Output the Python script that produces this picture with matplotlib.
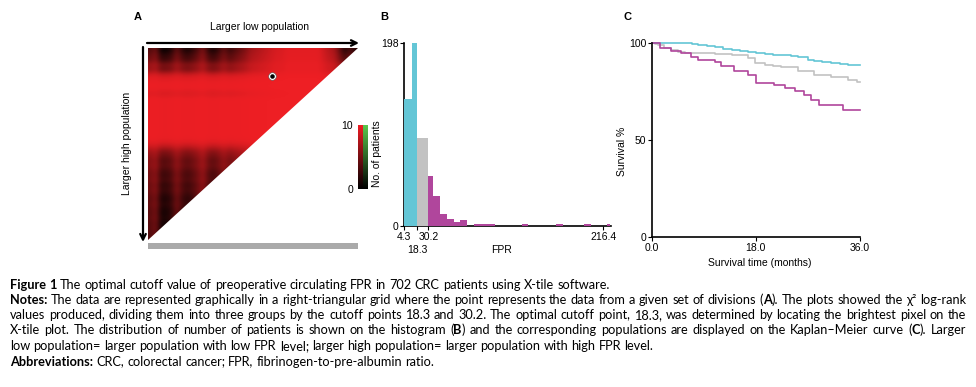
import matplotlib
matplotlib.use('Agg')
import matplotlib.pyplot as plt
import numpy as np
from matplotlib.colors import LinearSegmentedColormap
from matplotlib.patches import Polygon, Rectangle

plt.rcParams['font.family'] = ['Liberation Sans', 'DejaVu Sans']

# ---- panel A: X-tile triangle (row / column darkness)
row_dark = [0.95, 0.8, 0.75, 0.45, 0.55, 0.15, 0.05, 0.02, 0.02, 0.1,
            0.02, 0.02, 0.02, 0.02, 0.02, 0.02, 0.02, 0.02, 0.02, 0.05,
            0.2, 0.45, 0.55, 0.65, 0.6, 0.7, 0.75, 0.7, 0.8, 0.75,
            0.82, 0.88, 0.82, 0.88, 0.9, 0.86, 0.93, 0.9, 0.95, 0.95]
col_weight = [0.7, 0.55, 1.0, 1.0, 0.9, 0.6, 0.85, 0.95, 0.85, 0.7,
              0.5, 0.85, 0.95, 0.8, 0.6, 0.8, 0.7, 0.6, 0.5, 0.35,
              0.3, 0.25, 0.2, 0.15, 0.1, 0.1, 0.05, 0.05, 0.05, 0.05,
              0.05, 0.05, 0.05, 0.15, 0.25, 0.3, 0.6, 0.9, 0.7, 0.9]
best_cell = (23.6, 5.8)   # (column, row) of the optimal cut point

# ---- panel B: histogram of FPR
bin_left = [4.3, 12.6, 18.3, 30.2, 35.5, 42.6, 50.4, 57.8, 63.9,
            79.1, 86.4, 93.8, 129.9, 166.0, 195.8, 220.0]
bin_right = [12.6, 18.3, 30.2, 35.5, 42.6, 50.4, 57.8, 63.9, 71.7,
             86.4, 93.8, 101.1, 136.6, 173.8, 202.9, 224.0]
counts = [137, 198, 95, 54, 32, 13, 8, 4, 6, 2, 2, 2, 2, 2, 2, 2]
cutoffs = [18.3, 30.2]
fpr_ticks = [4.3, 18.3, 30.2, 216.4]

# ---- panel C: Kaplan-Meier curves
low_t = [0, 6.9, 8.0, 9.5, 10.9, 12.3, 13.8, 15.2, 16.6, 18.0, 19.5, 21.0,
         22.4, 24.0, 25.3, 27.0, 28.1, 29.5, 31.0, 32.5, 33.9, 35.2, 36]
low_s = [100, 99.4, 99.0, 98.3, 97.6, 97.0, 96.4, 95.8, 95.2, 94.7, 94.2, 93.8,
         93.5, 93.0, 92.5, 91.3, 90.4, 90.0, 89.6, 89.1, 88.7, 88.4, 88.4]
mid_t = [0, 0.6, 1.1, 2.2, 3.4, 4.5, 5.7, 10.9, 13.8, 16.6, 17.8, 19.5,
         21.0, 22.4, 25.3, 28.1, 31.0, 33.9, 35.4, 36]
mid_s = [100, 99.3, 98.6, 97.5, 96.4, 95.2, 94.7, 94.4, 93.5, 92.1, 89.6, 88.7,
         88.0, 87.4, 85.3, 83.6, 82.2, 81.0, 79.8, 79.8]
high_t = [0, 1.4, 3.4, 5.1, 6.85, 8.0, 10.9, 12.0, 14.3, 16.6, 18.1, 21.2,
          23.0, 24.7, 26.4, 27.6, 29.0, 33.1, 36]
high_s = [100, 97.3, 95.9, 94.7, 92.5, 91.3, 90.1, 87.9, 85.3, 83.6, 79.3, 78.5,
          76.7, 75.0, 73.3, 70.7, 68.2, 65.4, 65.4]

CYAN, GREY, MAG = '#64c6d6', '#c2c2c2', '#b0469c'
W, H = 976, 387

fig = plt.figure(figsize=(W / 100, H / 100), dpi=100)


def box(l, t, r, b):
    return fig.add_axes([l / W, 1 - b / H, (r - l) / W, (b - t) / H])


ov = fig.add_axes([0, 0, 1, 1])
ov.set_xlim(0, W)
ov.set_ylim(H, 0)
ov.axis('off')

# ---------------- A
N = len(row_dark)
grid = 10 * (1 - np.outer(row_dark, col_weight))
axA = box(148, 48, 358, 240)
cmap = LinearSegmentedColormap.from_list('xt', ['#000000', '#ee1f24'])
im = axA.imshow(grid, cmap=cmap, vmin=0, vmax=10, extent=(0, N, N, 0),
                interpolation='bicubic', aspect='auto')
im.set_clip_path(Polygon([(0, 0), (N, 0), (0, N)], transform=axA.transData))
axA.scatter([best_cell[0]], [best_cell[1]], s=30, c='white', edgecolors='#555555',
            linewidths=0.4, zorder=3)
axA.scatter([best_cell[0]], [best_cell[1]], s=5, c='black', zorder=4)
axA.set_xlim(0, N)
axA.set_ylim(N, 0)
axA.axis('off')

axCb = box(358, 125, 368, 189)
v = np.linspace(1, 0, 64)[:, None]
cb = np.stack([np.hstack([v * 0.93, v * 0.35]),
               np.hstack([v * 0.11, v * 0.78]),
               np.hstack([v * 0.14, v * 0.30])], axis=-1)
axCb.imshow(cb, aspect='auto', interpolation='nearest')
axCb.axis('off')
ov.text(353, 126, '10', ha='right', va='center', fontsize=7.5)
ov.text(353, 190, '0', ha='right', va='center', fontsize=7.5)

ov.annotate('', xy=(359, 43), xytext=(147, 43),
            arrowprops=dict(arrowstyle='->', lw=1.6, color='black', shrinkA=0, shrinkB=0))
ov.annotate('', xy=(143, 242), xytext=(143, 47),
            arrowprops=dict(arrowstyle='->', lw=1.6, color='black', shrinkA=0, shrinkB=0))
ov.add_patch(Rectangle((148, 243), 210, 6, color='#aaaaaa', lw=0))
ov.text(259, 27, 'Larger low population', ha='center', va='center', fontsize=7.5)
ov.text(127, 143, 'Larger high population', ha='center', va='center',
        rotation=90, fontsize=7.5)

for x, s in [(138, 'A'), (384, 'B'), (628, 'C')]:
    ov.text(x, 17, s, ha='center', va='center', fontsize=8, fontweight='bold')

# ---------------- B
axB = box(404, 42.7, 611, 226)
colors = [CYAN if l < cutoffs[0] else GREY if l < cutoffs[1] else MAG for l in bin_left]
widths = [r - l for l, r in zip(bin_left, bin_right)]
axB.bar(bin_left, counts, width=widths, align='edge', color=colors, lw=0, zorder=3)
axB.set_xlim(4.3, 224.6)
axB.set_ylim(0, 198)
axB.set_xticks(fpr_ticks)
axB.set_xticklabels([str(t) for t in fpr_ticks])
axB.set_yticks([0, 198])

# ---------------- C
axC = box(651.7, 42.7, 860, 237.3)
for t, s, c in [(mid_t, mid_s, GREY), (low_t, low_s, CYAN), (high_t, high_s, MAG)]:
    axC.step(t, s, where='post', color=c, lw=1.2, clip_on=False)
axC.set_xlim(0, 36)
axC.set_ylim(0, 100)
axC.set_xticks([0, 18, 36])
axC.set_xticklabels(['0.0', '18.0', '36.0'])
axC.set_yticks([0, 50, 100])

for ax in (axB, axC):
    for sp in ('top', 'right'):
        ax.spines[sp].set_visible(False)
    for sp in ('left', 'bottom'):
        ax.spines[sp].set_linewidth(1.2)
    ax.tick_params(labelsize=7.5, length=3, width=0.8, pad=1)
    ax.patch.set_alpha(0)

tk = axB.xaxis.get_major_ticks()[1]
tk.tick1line.set_markersize(7)
tk.set_pad(11)

axB.set_ylabel('No. of patients', fontsize=7.5)
axB.yaxis.set_label_coords((382 - 404) / 207, (226 - 154) / 183.3)
axB.set_xlabel('FPR', fontsize=7.5)
axB.xaxis.set_label_coords((502 - 404) / 207, (226 - 245) / 183.3)
axC.set_ylabel('Survival %', fontsize=7.5)
axC.yaxis.set_label_coords((626.7 - 651.7) / 208.3, (237.3 - 151.7) / 194.6)
axC.set_xlabel('Survival time (months)', fontsize=7.5)
axC.xaxis.set_label_coords((760 - 651.7) / 208.3, (237.3 - 258) / 194.6)

# ---------------- caption
cap_lines = [
    "**Figure 1** The optimal cutoff value of preoperative circulating FPR in 702 CRC patients using X-tile software.",
    "**Notes:** The data are represented graphically in a right-triangular grid where the point represents the data from a given set of divisions (**A**). The plots showed the \u03c7\u00b2 log-rank",
    "values produced, dividing them into three groups by the cutoff points 18.3 and 30.2. The optimal cutoff point, 18.3, was determined by locating the brightest pixel on the",
    "X-tile plot. The distribution of number of patients is shown on the histogram (**B**) and the corresponding populations are displayed on the Kaplan\u2013Meier curve (**C**). Larger",
    "low population= larger population with low FPR level; larger high population= larger population with high FPR level.",
    "**Abbreviations:** CRC, colorectal cancer; FPR, fibrinogen-to-pre-albumin ratio.",
]
cap_justify = [False, True, True, True, False, False]
cap_base = [289, 303.5, 319, 334.5, 350, 365.5]
capfont = ['Lato', 'DejaVu Sans']
rend = fig.canvas.get_renderer()


def words_of(line):
    parts = line.split('**')
    words = [[]]
    for k, p in enumerate(parts):
        for n, piece in enumerate(p.split(' ')):
            if n > 0:
                words.append([])
            if piece:
                words[-1].append((piece, k % 2 == 1))
    return [w for w in words if w]


def tw(s, bold, size):
    t = ov.text(0, 0, s, fontsize=size, family=capfont,
                fontweight='bold' if bold else 'normal')
    w = t.get_window_extent(rend).width
    t.remove()
    return w


def natural(line, size):
    ws = words_of(line)
    sp = tw('a a', False, size) - tw('aa', False, size)
    return sum(tw(s, b, size) for w in ws for s, b in w) + sp * (len(ws) - 1)


size = min(10 * 612 / natural(cap_lines[0], 10),
           10 * 956 / max(natural(l, 10) for l, j in zip(cap_lines, cap_justify) if j))

space = tw('a a', False, size) - tw('aa', False, size)
for line, just, yb in zip(cap_lines, cap_justify, cap_base):
    ws = words_of(line)
    wlen = [[tw(s, b, size) for s, b in w] for w in ws]
    gap = space
    if just:
        gap = (956 - sum(sum(x) for x in wlen)) / (len(ws) - 1)
    x = 10
    for w, lens in zip(ws, wlen):
        for (s, b), L in zip(w, lens):
            ov.text(x, yb, s, fontsize=size, family=capfont, va='baseline',
                    fontweight='bold' if b else 'normal')
            x += L
        x += gap

fig.savefig('out.png', dpi=100)
